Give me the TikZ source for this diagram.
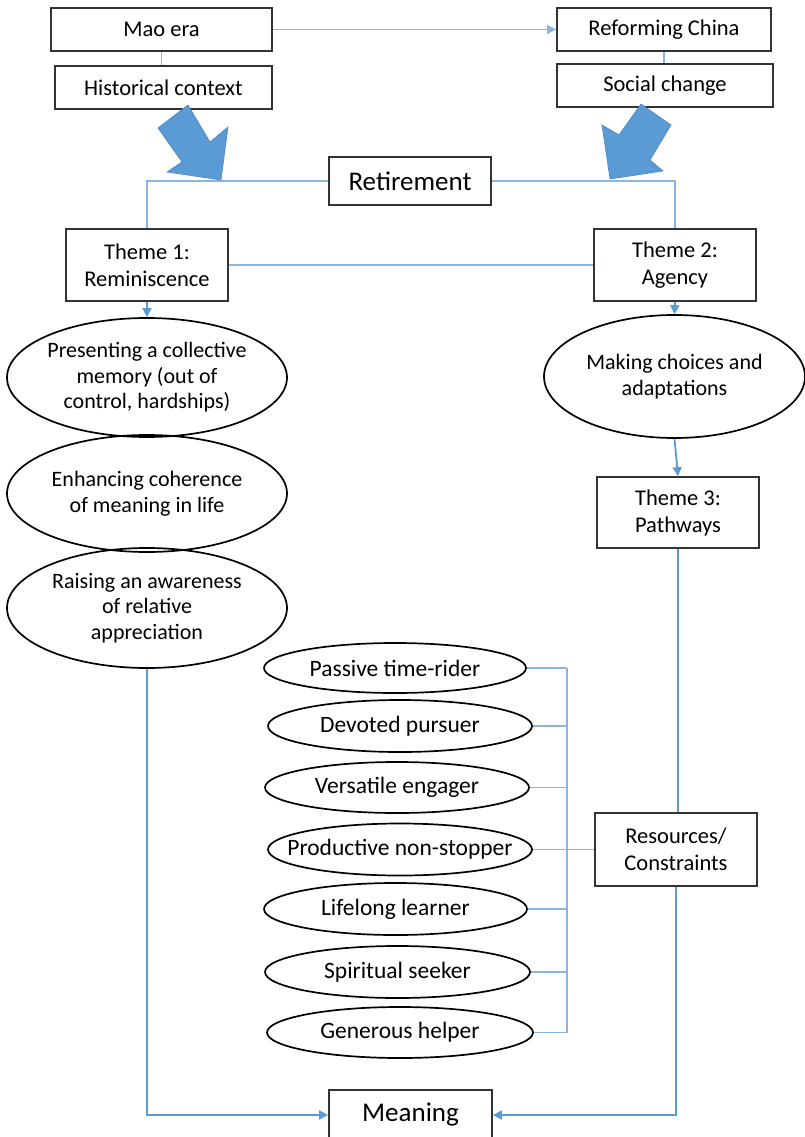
\documentclass[tikz,border=0pt]{standalone}
\usepackage{fontspec}
\setmainfont{Carlito}
\usetikzlibrary{shapes.geometric,arrows.meta}
\definecolor{connlight}{HTML}{8DB3E2}
\definecolor{connblue}{HTML}{5B9BD5}
\definecolor{arrowfill}{HTML}{5B9BD5}
\definecolor{arrowedge}{HTML}{4A86C0}
\definecolor{boxline}{HTML}{333333}
\begin{document}
\begin{tikzpicture}[x=1pt,y=-1pt,
  box/.style={draw=boxline,line width=1.7pt,fill=white,inner sep=0pt,align=center,
    font=\fontsize{22.5}{27}\selectfont},
  bigbox/.style={box,font=\fontsize{27}{30}\selectfont},
  oval/.style={draw=black,line width=1.7pt,ellipse,inner xsep=-20pt,inner ysep=0pt,align=center,
    font=\fontsize{22}{25.5}\selectfont},
  smalloval/.style={draw=black,line width=1.7pt,ellipse,inner xsep=-60pt,inner ysep=0pt,
    font=\fontsize{23.5}{26}\selectfont},
  lightline/.style={draw=connlight,line width=1.6pt},
  blueline/.style={draw=connblue,line width=1.8pt},
  arr/.style={-{Triangle[length=9pt,width=9pt]}},
  block/.style={fill=arrowfill,draw=arrowedge,line width=0.6pt,line join=miter}]
\useasboundingbox (0,0) rectangle (805,1137);
\fill[white] (0,0) rectangle (805,1137);

% top boxes
\node[box,minimum width=221pt,minimum height=43pt] (mao) at (161.5,29.5) {Mao era};
\node[box,minimum width=214pt,minimum height=43pt] (ref) at (664,29.5) {Reforming China};
\node[box,minimum width=217pt,minimum height=43pt] (hist) at (163.5,87.5) {Historical context};
\node[box,minimum width=216pt,minimum height=43pt] (soc) at (665,85.5) {Social change};

\draw[lightline,arr] (mao.east) -- (ref.west);
\draw[lightline] (mao.south) -- (mao.south |- hist.north);
\draw[lightline] (ref.south) -- (ref.south |- soc.north);

% retirement
\node[bigbox,minimum width=162pt,minimum height=48pt] (ret) at (410,181) {Retirement};

% themes
\node[box,minimum width=162pt,minimum height=72pt] (t1) at (147,265) {Theme 1:\\Reminiscence};
\node[box,minimum width=162pt,minimum height=72pt] (t2) at (675,265) {Theme 2:\\Agency};

\draw[lightline] (ret.west) -| (t1.north);
\draw[lightline] (ret.east) -| (t2.north);
\draw[lightline] (t1.east) -- (t2.west);

% block arrows
\draw[block] (188,105) -- (158,128) -- (182,162) -- (167,172) -- (221,180) -- (228,127) -- (210,142) -- cycle;
\draw[block] (641,104) -- (671,125) -- (650,160) -- (663,171) -- (610,179) -- (602,125) -- (619,135) -- cycle;

% left column ellipses
\node[oval,minimum width=280pt,minimum height=119pt] (e1) at (147,377.5) {Presenting a collective\\memory (out of\\control, hardships)};
\node[oval,minimum width=280pt,minimum height=117pt] (e2) at (147,493.5) {Enhancing coherence\\of meaning in life};
\node[oval,minimum width=280pt,minimum height=120pt] (e3) at (147,608) {Raising an awareness\\of relative\\appreciation};
\draw[blueline,arr] (t1.south) -- (e1.north);

% right column
\node[oval,minimum width=261pt,minimum height=123pt] (r1) at (674.5,376.5) {Making choices and\\adaptations};
\node[box,minimum width=162pt,minimum height=71pt] (t3) at (678,512.5) {Theme 3:\\Pathways};
\node[box,minimum width=162pt,minimum height=73pt] (res) at (676,849.5) {Resources/\\Constraints};
\draw[blueline,arr] (t2.south) -- (r1.north);
\draw[blueline,arr] (r1.south) -- (t3.north);
\draw[blueline] (t3.south) -- (t3.south |- res.north);

% pathway ellipses
\node[smalloval,minimum width=262pt,minimum height=50pt] (p1) at (395,668) {Passive time-rider};
\node[smalloval,minimum width=264pt,minimum height=52pt] (p2) at (400,726) {Devoted pursuer};
\node[smalloval,minimum width=264pt,minimum height=51pt] (p3) at (397,787.5) {Versatile engager};
\node[smalloval,minimum width=264pt,minimum height=52pt] (p4) at (400,849.5) {Productive non-stopper};
\node[smalloval,minimum width=263pt,minimum height=52pt] (p5) at (395.5,909) {Lifelong learner};
\node[smalloval,minimum width=265pt,minimum height=52pt] (p6) at (397.5,972) {Spiritual seeker};
\node[smalloval,minimum width=266pt,minimum height=51pt] (p7) at (400,1032.5) {Generous helper};

\coordinate (bus) at (567,668);
\foreach \i in {1,...,7} {\draw[lightline] (p\i.east) -- (p\i.east -| bus);}
\draw[lightline] (p1.east -| bus) -- (p7.east -| bus);
\draw[lightline] (p4.east -| bus) -- (res.west);

% meaning
\node[bigbox,minimum width=163pt,minimum height=50pt] (mean) at (410.5,1115) {Meaning};
\draw[blueline,arr] (e3.south) |- (mean.west);
\draw[blueline,arr] (res.south) |- (mean.east);
\end{tikzpicture}
\end{document}
